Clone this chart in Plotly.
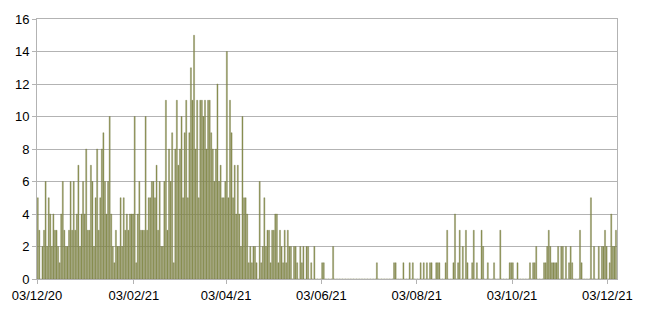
import datetime as dt
import plotly.graph_objects as go

# Daily counts, one value per day starting 03/12/2020
start_date = dt.date(2020, 12, 3)

dec_jan_counts = [5, 3, 0, 2, 3, 6, 2, 5, 4, 2, 4, 3, 3, 2, 1, 4, 6, 3, 2, 2,
                  3, 6, 3, 6, 3, 4, 7, 2, 4, 6, 4, 8, 3, 3, 7, 6, 2, 5]
jan_feb_counts = [8, 3, 5, 8, 9, 6, 4, 6, 10, 4, 2, 1, 3, 2, 2, 5, 2, 5, 3, 4,
                  3, 4, 4, 4, 10, 1, 4, 6, 3, 3, 3, 10, 3, 5, 5, 6]
feb_mar_counts = [6, 5, 7, 3, 6, 2, 2, 6, 11, 3, 8, 6, 9, 1, 8, 11, 7, 8, 10, 5,
                  9, 11, 5, 9, 13, 11, 15, 8, 11, 5, 11, 11, 10, 11, 8, 11, 11, 9, 8]
apr_may_counts = [6, 8, 12, 6, 7, 5, 5, 6, 14, 5, 11, 9, 5, 7, 4, 7, 4, 2, 10, 5,
                  5, 4, 1, 2, 1, 2, 2, 1, 0, 6, 1, 2, 5, 2, 3, 3, 1, 3, 3]

# Later, sparse period: day offset from start_date and count
sparse_days = [152, 153, 154, 155, 156, 157, 158, 159, 160, 161, 162, 164, 165, 166,
               168, 169, 170, 172, 173, 175, 177, 182, 183, 189, 217, 228, 229, 234,
               238, 240, 245, 247, 249, 251, 252, 255, 256, 257, 261, 262, 266, 267,
               269, 270, 272, 274, 275, 278, 279, 281, 284, 285, 288, 292, 296, 302,
               303, 304, 307, 315, 317, 318, 319, 324, 325, 326, 327, 328, 329, 330,
               331, 332, 333, 335, 336, 338, 340, 341, 342, 347, 348, 354, 356, 359,
               361, 362, 363, 364, 366, 367, 368, 369, 370]
sparse_counts = [4, 4, 1, 3, 2, 1, 3, 1, 3, 2, 2, 2, 2, 1,
                 2, 1, 2, 2, 2, 1, 2, 1, 1, 2, 1, 1, 1, 1,
                 1, 1, 1, 1, 1, 1, 1, 1, 1, 1, 1, 3, 1, 4,
                 1, 3, 2, 3, 1, 1, 3, 1, 3, 2, 1, 1, 3, 1,
                 1, 1, 1, 1, 1, 1, 2, 1, 1, 2, 3, 2, 1, 1,
                 1, 1, 2, 2, 2, 2, 1, 2, 1, 3, 1, 5, 2, 2,
                 2, 2, 3, 2, 1, 4, 2, 2, 3]

n_days = 371
tick_dates = ["2020-12-03", "2021-02-03", "2021-04-03", "2021-06-03",
              "2021-08-03", "2021-10-03", "2021-12-03"]

counts = dec_jan_counts + jan_feb_counts + feb_mar_counts + apr_may_counts
counts = counts + [0] * (n_days - len(counts))
for d, c in zip(sparse_days, sparse_counts):
    counts[d] = c
dates = [start_date + dt.timedelta(days=i) for i in range(n_days)]

fig = go.Figure(go.Bar(
    x=dates, y=counts,
    xperiod=86400000, xperiodalignment="middle",
    marker=dict(color="#979d5e", line=dict(color="#5e6430", width=0.3)),
))

grid = "#b3b3b3"
fig.update_layout(
    width=650, height=322,
    margin=dict(l=35, r=33, t=17, b=43),
    paper_bgcolor="white", plot_bgcolor="white",
    bargap=0.3, showlegend=False,
    font=dict(family="Liberation Sans, Arial, sans-serif", size=13, color="#000000"),
)
fig.update_xaxes(
    type="date",
    range=["2020-12-03 00:00", "2021-12-09 04:00"],
    tickvals=tick_dates, tickformat="%d/%m/%y",
    showgrid=False, showline=True, linecolor=grid, linewidth=1, mirror=True,
    ticks="outside", ticklen=4, tickcolor=grid,
)
fig.update_yaxes(
    range=[0, 16], dtick=2,
    showgrid=True, gridcolor=grid, gridwidth=1,
    showline=True, linecolor=grid, linewidth=1, mirror=True,
    ticks="outside", ticklen=4, tickcolor=grid, zeroline=False,
)
fig.write_html("out.html")
